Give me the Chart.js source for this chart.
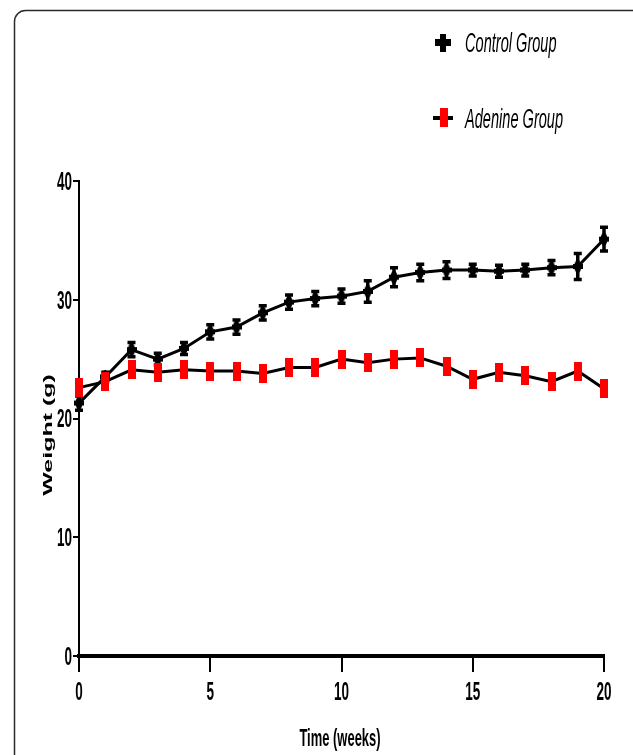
<!DOCTYPE html>
<html>
<head>
<meta charset="utf-8">
<script src="https://cdn.jsdelivr.net/npm/chart.js@4.4.1/dist/chart.umd.min.js"></script>
<style>
html,body{margin:0;padding:0;background:#fff;}
#wrap{width:633px;height:755px;position:relative;}
canvas{display:block;}
</style>
</head>
<body>
<div id="wrap"><canvas id="c" width="633" height="755"></canvas></div>
<script>
// ---- data ----
const weeks = [0,1,2,3,4,5,6,7,8,9,10,11,12,13,14,15,16,17,18,19,20];
const controlWeight = [21.3,23.5,25.8,25.0,25.9,27.3,27.7,28.9,29.8,30.1,30.3,30.7,31.9,32.3,32.5,32.5,32.4,32.5,32.7,32.8,35.1];
const controlSEM    = [0.6,0.4,0.6,0.5,0.5,0.6,0.6,0.6,0.6,0.6,0.6,0.9,0.8,0.7,0.7,0.5,0.5,0.5,0.6,1.1,1.0];
const adenineWeight = [22.6,23.1,24.1,23.9,24.1,24.0,24.0,23.8,24.3,24.3,25.0,24.7,25.0,25.1,24.4,23.3,23.9,23.6,23.1,24.0,22.5];
const xTickValues = [0,5,10,15,20];
const yTickValues = [0,10,20,30,40];
const seriesNames = ['Control Group','Adenine Group'];
const xTitle = 'Time (weeks)';
const yTitle = 'Weight (g)';

// ---- marker images ----
function makeCanvas(w,h,draw){const c=document.createElement('canvas');c.width=w;c.height=h;draw(c.getContext('2d'));return c;}
const controlMarker = makeCanvas(10,13,g=>{g.fillStyle='#000';g.fillRect(0,4,10,5);g.beginPath();g.ellipse(5,6.5,3.5,6.5,0,0,Math.PI*2);g.fill();});
const adenineMarker = makeCanvas(8,19,g=>{g.fillStyle='#ff0000';g.fillRect(0,0,8,19);});

const SX = 0.54; // horizontal squeeze of the reference's lettering
const TXT = '"Liberation Sans", Arial, sans-serif';

function sText(ctx,text,x,y,font,align,baseline,sx){
  ctx.save();ctx.translate(x,y);ctx.scale(sx===undefined?SX:sx,1);
  ctx.font=font;ctx.textAlign=align;ctx.textBaseline=baseline;ctx.fillStyle='#000';
  ctx.fillText(text,0,0);ctx.restore();
}

const decor = {
  id:'decor',
  beforeDraw(chart){
    const ctx=chart.ctx;
    ctx.save();
    ctx.fillStyle='#fff';ctx.fillRect(0,0,chart.width,chart.height);
    ctx.strokeStyle='#2a2a2a';ctx.lineWidth=1.5;
    ctx.beginPath();
    ctx.roundRect(14.5,10.5,700,800,11);
    ctx.stroke();
    ctx.restore();
  },
  beforeDatasetDraw(chart,args){
    if(args.index!==0) return;
    const ctx=chart.ctx, xs=chart.scales.x, ys=chart.scales.y;
    ctx.save();ctx.strokeStyle='#000';ctx.lineWidth=3.5;
    weeks.forEach((w,i)=>{
      const px=xs.getPixelForValue(w);
      const top=ys.getPixelForValue(controlWeight[i]+controlSEM[i]);
      const bot=ys.getPixelForValue(controlWeight[i]-controlSEM[i]);
      ctx.beginPath();
      ctx.moveTo(px,top);ctx.lineTo(px,bot);
      ctx.moveTo(px-4,top);ctx.lineTo(px+4,top);
      ctx.moveTo(px-4,bot);ctx.lineTo(px+4,bot);
      ctx.stroke();
    });
    ctx.restore();
  },
  afterDraw(chart){
    const ctx=chart.ctx, xs=chart.scales.x, ys=chart.scales.y;
    // tick labels from the scales
    ys.ticks.forEach(t=>{
      sText(ctx,String(t.value),72,ys.getPixelForValue(t.value)+2,'bold 25px '+TXT,'right','middle');
    });
    xs.ticks.forEach(t=>{
      sText(ctx,String(t.value),xs.getPixelForValue(t.value),693,'bold 25px '+TXT,'center','middle');
    });
    // axis titles
    sText(ctx,xTitle,340,739,'bold 24px '+TXT,'center','middle');
    ctx.save();
    ctx.translate(48,435);ctx.scale(SX,1);ctx.rotate(-Math.PI/2);
    ctx.font='bold 25px '+TXT;ctx.textAlign='center';ctx.textBaseline='middle';ctx.fillStyle='#000';
    ctx.fillText(yTitle,0,0);
    ctx.restore();
    // legend
    ctx.save();
    ctx.fillStyle='#000';
    ctx.fillRect(435,39,16,7);ctx.fillRect(440,34,6,18);
    ctx.fillRect(433,116,20,4);
    ctx.fillStyle='#ff0000';ctx.fillRect(440,108,8,19);
    ctx.restore();
    sText(ctx,seriesNames[0],465,52,'italic 27px '+TXT,'left','alphabetic');
    sText(ctx,seriesNames[1],465,128,'italic 27px '+TXT,'left','alphabetic');
  }
};

new Chart(document.getElementById('c'),{
  type:'line',
  data:{
    datasets:[
      {label:seriesNames[0],data:weeks.map((w,i)=>({x:w,y:controlWeight[i]})),
       borderColor:'#000',borderWidth:3,pointStyle:controlMarker,pointRadius:6,
       backgroundColor:'#000',tension:0,clip:false,order:1},
      {label:seriesNames[1],data:weeks.map((w,i)=>({x:w,y:adenineWeight[i]})),
       borderColor:'#000',borderWidth:3,pointStyle:adenineMarker,pointRadius:10,
       backgroundColor:'#f00',tension:0,clip:false,order:0}
    ]
  },
  options:{
    responsive:false,animation:false,devicePixelRatio:1,
    layout:{padding:{top:181,right:29,bottom:0,left:0}},
    plugins:{legend:{display:false},tooltip:{enabled:false},title:{display:false}},
    scales:{
      x:{type:'linear',min:0,max:20,
         afterBuildTicks:s=>{s.ticks=xTickValues.map(v=>({value:v}));},
         afterFit:s=>{s.height=99;},
         ticks:{display:false},
         grid:{drawOnChartArea:false,drawTicks:true,tickLength:16,color:'#000',lineWidth:2},
         border:{display:true,color:'#000',width:4}},
      y:{type:'linear',min:0,max:40,
         afterBuildTicks:s=>{s.ticks=yTickValues.map(v=>({value:v}));},
         afterFit:s=>{s.width=79;},
         ticks:{display:false},
         grid:{drawOnChartArea:false,drawTicks:true,tickLength:6,color:'#000',lineWidth:2},
         border:{display:true,color:'#000',width:2}}
    }
  },
  plugins:[decor]
});
</script>
</body>
</html>
